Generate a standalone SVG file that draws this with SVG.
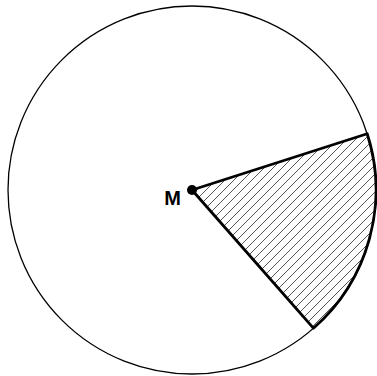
<svg xmlns="http://www.w3.org/2000/svg" width="377" height="376" viewBox="0 0 377 376">
<defs>
<pattern id="hatch" patternUnits="userSpaceOnUse" width="9" height="9">
<path d="M-2,2 L2,-2 M0,9 L9,0 M7,11 L11,7" stroke="#555" stroke-width="1"/>
</pattern>
</defs>
<style>
.outline{fill:none;stroke:#000;stroke-width:1.3}
.sector{fill:url(#hatch);stroke:#000;stroke-width:2.8;stroke-linejoin:round}
.lbl{font-family:"Liberation Sans",Arial,sans-serif;font-weight:bold;font-size:20px;fill:#000}
</style>
<g id="circle"><circle class="outline" cx="192" cy="190" r="184"/></g>
<g id="sector"><path class="sector" d="M192,190 L367.2,133.75 A184,184 0 0 1 313.4,328.2 Z"/></g>
<g id="M"><circle cx="192" cy="190" r="5" fill="#000"/><text class="lbl" x="181" y="205" text-anchor="end">M</text></g>
</svg>
